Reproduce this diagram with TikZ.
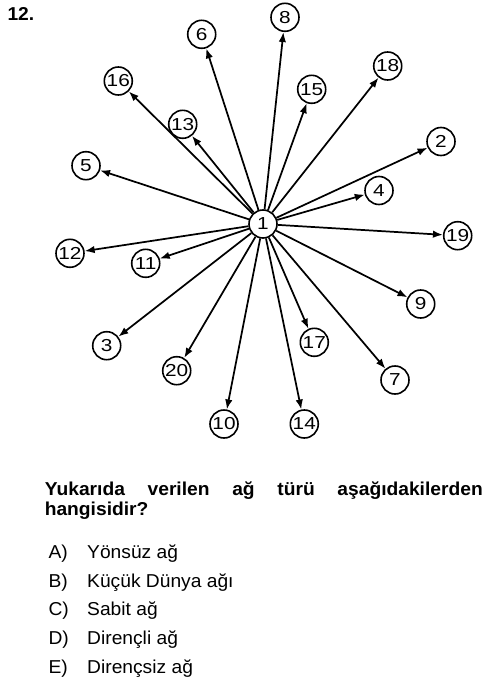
\documentclass[tikz,border=0pt]{standalone}
\usepackage{fontspec}
\setmainfont{Liberation Sans}[FakeStretch=1.03]
\newfontfamily\rakam{Liberation Sans}[FakeStretch=1.2]
\usetikzlibrary{arrows.meta}

\tikzset{every picture/.style={line width=0.75pt}}
\tikzset{
  dugum/.style={draw, circle, line width=1.2pt, minimum size=21pt, inner sep=0pt, font=\rakam\fontsize{13}{13}\selectfont},
  ok/.style={-{Latex[length=7.5pt,width=5.6pt]}, line width=1.3pt},
  yazi/.style={anchor=base west, inner sep=0pt, font=\fontsize{14}{16}\selectfont},
  kalin/.style={yazi, font=\bfseries\fontsize{14}{16}\selectfont}
}

\begin{document}
\begin{tikzpicture}[x=0.75pt,y=0.75pt,yscale=-1,xscale=1]
\useasboundingbox (0,0) rectangle (500,685);

%Shape: Circle - center node
\node [dugum] (n1) at (263,224) {1};
%Shape: Circle - outer nodes
\node [dugum] (n2) at (441,141.5) {2};
\node [dugum] (n3) at (106.7,345.7) {3};
\node [dugum] (n4) at (379,190.5) {4};
\node [dugum] (n5) at (86,165.7) {5};
\node [dugum] (n6) at (201.7,34.3) {6};
\node [dugum] (n7) at (395,380) {7};
\node [dugum] (n8) at (285,17.3) {8};
\node [dugum] (n9) at (420.7,304) {9};
\node [dugum] (n10) at (224,424) {10};
\node [dugum] (n11) at (145.7,263.3) {11};
\node [dugum] (n12) at (70,253.3) {12};
\node [dugum] (n13) at (182.7,124.3) {13};
\node [dugum] (n14) at (304.3,424) {14};
\node [dugum] (n15) at (311.7,89.3) {15};
\node [dugum] (n16) at (118.3,81) {16};
\node [dugum] (n17) at (314.3,342.3) {17};
\node [dugum] (n18) at (387.7,66) {18};
\node [dugum] (n19) at (457.7,235.7) {19};
\node [dugum] (n20) at (176.7,370.7) {20};

%Straight Lines - arrows out of 1
\draw [ok] (n1) -- (n2);
\draw [ok] (n1) -- (n3);
\draw [ok] (n1) -- (n4);
\draw [ok] (n1) -- (n5);
\draw [ok] (n1) -- (n6);
\draw [ok] (n1) -- (n7);
\draw [ok] (n1) -- (n8);
\draw [ok] (n1) -- (n9);
\draw [ok] (n1) -- (n10);
\draw [ok] (n1) -- (n11);
\draw [ok] (n1) -- (n12);
\draw [ok] (n1) -- (n13);
\draw [ok] (n1) -- (n14);
\draw [ok] (n1) -- (n15);
\draw [ok] (n1) -- (n16);
\draw [ok] (n1) -- (n17);
\draw [ok] (n1) -- (n18);
\draw [ok] (n1) -- (n19);
\draw [ok] (n1) -- (n20);

% Text Node
\node [kalin] (no) at (7,21) {12.};
% Text Node
\node [kalin] (soru1) at (44.3,495) {\makebox[328.5pt][s]{Yukarıda verilen ağ türü aşağıdakilerden}};
% Text Node
\node [kalin] (soru2) at (44.3,515) {hangisidir?};

% Text Node
\node [yazi] (sa) at (48,558) {A)};
\node [yazi] (ca) at (86.7,558) {Yönsüz ağ};
% Text Node
\node [yazi] (sb) at (48,587) {B)};
\node [yazi] (cb) at (86.7,587) {Küçük Dünya ağı};
% Text Node
\node [yazi] (sc) at (48,615.5) {C)};
\node [yazi] (cc) at (86.7,615.5) {Sabit ağ};
% Text Node
\node [yazi] (sd) at (48,644.5) {D)};
\node [yazi] (cd) at (86.7,644.5) {Dirençli ağ};
% Text Node
\node [yazi] (se) at (48,673) {E)};
\node [yazi] (ce) at (86.7,673) {Dirençsiz ağ};

\end{tikzpicture}
\end{document}
